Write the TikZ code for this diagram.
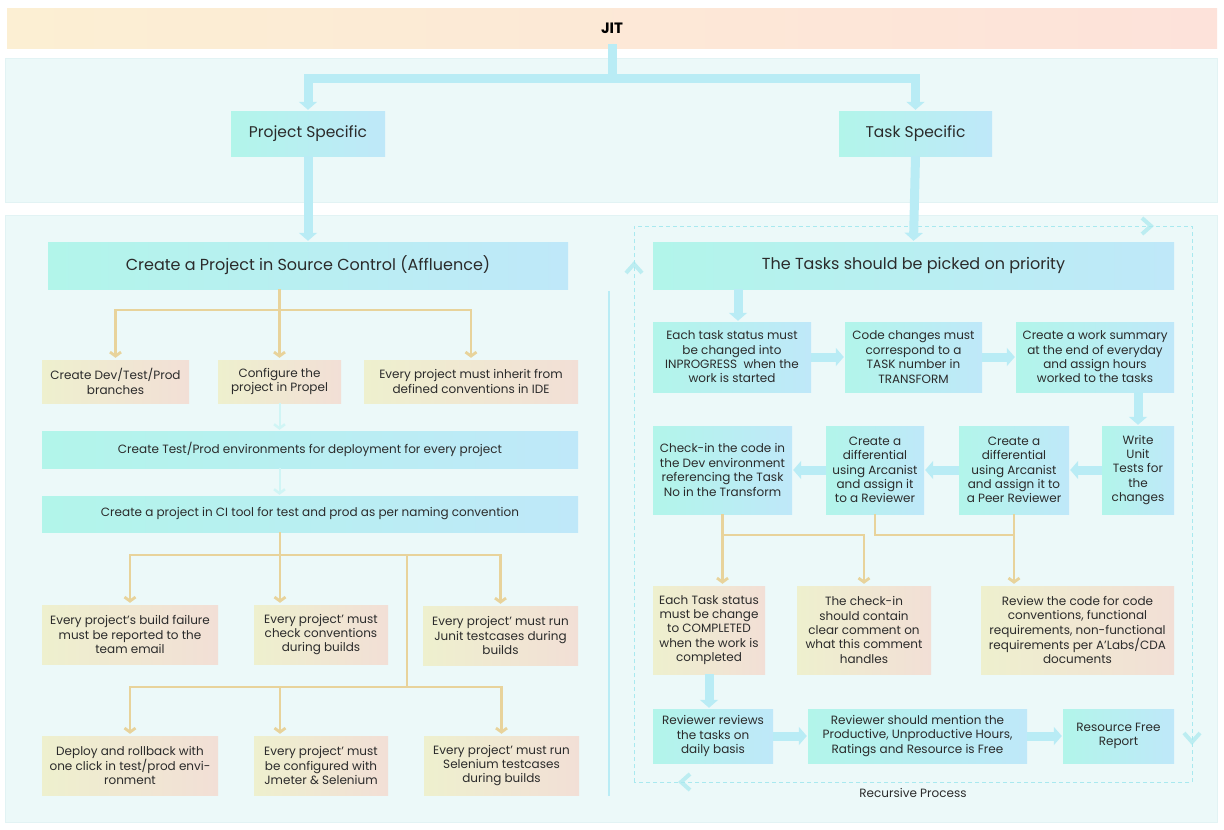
\documentclass[tikz,border=0pt]{standalone}
\usepackage{fontspec}
\setmainfont{Poppins}
\usetikzlibrary{arrows.meta}
\usetikzlibrary{decorations.markings}

\definecolor{bandL}{HTML}{FCEFD3}
\definecolor{bandR}{HTML}{FDE2DA}
\definecolor{panel}{HTML}{ECF9F9}
\definecolor{panelrim}{HTML}{E2F3F4}
\definecolor{cyanL}{HTML}{B2F5EA}
\definecolor{cyanR}{HTML}{BFE8F9}
\definecolor{sandL}{HTML}{EEF0CE}
\definecolor{sandR}{HTML}{F2DFD6}
\definecolor{ochre}{HTML}{E8D39B}
\definecolor{pipecol}{HTML}{B9ECF5}
\definecolor{faintcol}{HTML}{D0F5F5}
\definecolor{loopcol}{HTML}{A9E9EF}
\definecolor{ink}{HTML}{2B2B2B}

\tikzset{
  box/.style={inner sep=0pt, align=center, text=ink, font=\fontsize{12}{14.4}\selectfont},
  cyanbox/.style={box, left color=cyanL, right color=cyanR},
  sandbox/.style={box, left color=sandL, right color=sandR},
  bigbox/.style={cyanbox, font=\fontsize{16}{19}\selectfont},
  pipe/.style={draw=pipecol, line width=9pt},
  flow/.style={pipe, -{Triangle[length=8pt,width=18pt]}, shorten >=1pt},
  branch/.style={draw=ochre, line width=2.2pt, -{Straight Barb[length=4pt,width=11pt,line width=2.8pt]}, shorten >=2pt},
  ochreline/.style={draw=ochre, line width=2.2pt},
  faintflow/.style={draw=faintcol, line width=2pt, -{Straight Barb[length=4pt,width=11pt,line width=2.5pt]}, shorten >=1pt},
  chevron/.style={draw=loopcol, line width=4pt, opacity=0.7}
}

\begin{document}
\begin{tikzpicture}[x=1pt,y=-1pt]
  \useasboundingbox (0,0) rectangle (1224,830);
  \fill[white] (0,0) rectangle (1224,830);

  % bands
  \node[box, minimum width=1210, minimum height=40, left color=bandL, right color=bandR,
        font=\fontsize{15}{18}\selectfont\bfseries, text=black] (jit) at (612,28) {JIT};
  \filldraw[fill=panel, draw=panelrim] (5,58) rectangle (1217,202);
  \filldraw[fill=panel, draw=panelrim] (5,215) rectangle (1217,822);

  % top level
  \node[cyanbox, font=\fontsize{15.5}{18}\selectfont, minimum width=154, minimum height=45] (proj) at (308,133.5) {Project Specific};
  \node[cyanbox, font=\fontsize{15.5}{18}\selectfont, minimum width=153, minimum height=45] (task) at (915.5,133.5) {Task Specific};
  \draw[pipe, line cap=rect] (jit.south) -- ++(0,30) coordinate (split);
  \draw[flow] (split) -| (proj.north);
  \draw[flow] (split) -| (task.north);

  % project side
  \node[bigbox, minimum width=520, minimum height=47] (srcctl) at (308,265.5) {Create a Project in Source Control (Affluence)};
  \draw[flow] (proj.south) -- (srcctl.north);

  \node[sandbox, minimum width=147, minimum height=43] (devb) at (115.5,381.5) {Create Dev/Test/Prod\\branches};
  \node[sandbox, minimum width=123, minimum height=43] (propel) at (279.5,381.5) {Configure the\\project in Propel};
  \node[sandbox, minimum width=214, minimum height=43] (ide) at (471,381.5) {Every project must inherit from\\defined conventions in IDE};
  \coordinate (j1) at (279.5,310);
  \draw[branch] (srcctl.south -| propel.north) -- (propel.north);
  \draw[branch] (j1) -| (devb.north);
  \draw[branch] (j1) -| (ide.north);

  \node[cyanbox, minimum width=536, minimum height=37] (testenv) at (310,449.5) {Create Test/Prod environments for deployment for every project};
  \node[cyanbox, minimum width=536, minimum height=36] (ci) at (310,514) {Create a project in CI tool for test and prod as per naming convention};
  \draw[faintflow] (propel.south) -- (propel.south |- testenv.north);
  \draw[faintflow] (testenv.south -| propel.south) -- (propel.south |- ci.north);

  \node[sandbox, minimum width=176, minimum height=59] (fail) at (130,634.5) {Every project’s build failure\\must be reported to the\\team email};
  \node[sandbox, minimum width=134, minimum height=59] (chk) at (321,634.5) {Every project’ must\\check conventions\\during builds};
  \node[sandbox, minimum width=155, minimum height=59] (junit) at (500.5,635.5) {Every project’ must run\\Junit testcases during\\builds};
  \node[sandbox, minimum width=176, minimum height=59] (deploy) at (130,765.5) {Deploy and rollback with\\one click in test/prod envi-\\ronment};
  \node[sandbox, minimum width=134, minimum height=59] (jmeter) at (321,765.5) {Every project’ must\\be configured with\\Jmeter \& Selenium};
  \node[sandbox, minimum width=155, minimum height=59] (selen) at (501.5,765.5) {Every project’ must run\\Selenium testcases\\during builds};
  \coordinate (j2) at (280,555);
  \coordinate (j3) at (407,555);
  \coordinate (j4) at (407,687);
  \draw[branch] (ci.south -| j2) -- (j2 |- chk.north);
  \draw[branch] (j2) -| (fail.north);
  \draw[branch] (j2) -| (junit.north);
  \draw[ochreline] (j3) -- (j4);
  \draw[branch] (j4) -| (deploy.north);
  \draw[branch] (j4) -| (selen.north);
  \draw[branch] (j4 -| j2) -- (j2 |- jmeter.north);

  % divider
  \draw[draw=pipecol, line width=2pt] (609,291) -- (609,796);

  % task side
  \draw[draw=loopcol, line width=1pt, dash pattern=on 4pt off 3pt,
        postaction={decorate}, decoration={markings,
          mark=at position 518pt with {\draw[chevron, solid] (-9,8) -- (0,0) -- (-9,-8);},
          mark=at position 1073pt with {\draw[chevron, solid] (-9,8) -- (0,0) -- (-9,-8);},
          mark=at position 1630pt with {\draw[chevron, solid] (-9,8) -- (0,0) -- (-9,-8);},
          mark=at position 2181pt with {\draw[chevron, solid] (-9,8) -- (0,0) -- (-9,-8);}}]
    (634,782) |- (1192,226) |- (634,782);
  \node[font=\fontsize{12}{14}\selectfont, text=ink] (recur) at (913,793) {Recursive Process};

  \node[bigbox, minimum width=521, minimum height=47] (tasks) at (913.5,265.5) {The Tasks should be picked on priority};
  \draw[flow] (task.south) -- (tasks.north);

  \node[cyanbox, minimum width=158, minimum height=70] (inprog) at (732,357) {Each task status must\\be changed into\\INPROGRESS\ \ when the\\work is started};
  \node[cyanbox, minimum width=137, minimum height=70] (code) at (913.5,357) {Code changes must\\correspond to a\\TASK number in\\TRANSFORM};
  \node[cyanbox, minimum width=158, minimum height=70] (summary) at (1095,357) {Create a work summary\\at the end of everyday\\and assign hours\\worked to the tasks};
  \draw[flow] ([xshift=6pt]tasks.south -| inprog.north) -- ([xshift=6pt]inprog.north);
  \draw[flow] (inprog.east) -- (code.west);
  \draw[flow] (code.east) -- (summary.west);

  \node[cyanbox, minimum width=72, minimum height=88] (unit) at (1138,470) {Write\\Unit\\Tests for\\the\\changes};
  \node[cyanbox, minimum width=110, minimum height=88] (peer) at (1014,470) {Create a\\differential\\using Arcanist\\and assign it to\\a Peer Reviewer};
  \node[cyanbox, minimum width=98, minimum height=88] (reviewer) at (875,470) {Create a\\differential\\using Arcanist\\and assign it\\to a Reviewer};
  \node[cyanbox, minimum width=139, minimum height=88] (checkin) at (722.5,470) {Check-in the code in\\the Dev environment\\referencing the Task\\No in the Transform};
  \draw[flow] (summary.south -| unit.north) -- (unit.north);
  \draw[flow] (unit.west) -- (peer.east);
  \draw[flow] (peer.west) -- (reviewer.east);
  \draw[flow] (reviewer.west) -- (checkin.east);

  \node[sandbox, minimum width=112, minimum height=88] (done) at (709,630) {Each Task status\\must be change\\to COMPLETED\\when the work is\\completed};
  \node[sandbox, minimum width=134, minimum height=88] (comment) at (864,630) {The check-in\\should contain\\clear comment on\\what this comment\\handles};
  \node[sandbox, minimum width=193, minimum height=88] (review) at (1077.5,630) {Review the code for code\\conventions, functional\\requirements, non-functional\\requirements per A’Labs/CDA\\documents};
  \path (checkin.south) ++(0,21) coordinate (k1);
  \path (reviewer.south) ++(0,21) coordinate (k2);
  \draw[branch] (checkin.south) -- (checkin.south |- done.north);
  \draw[branch] (k1) -| (comment.north);
  \draw[ochreline] (reviewer.south) |- (k2 -| peer.south);
  \draw[branch] (peer.south) -- (peer.south |- review.north);

  \node[cyanbox, minimum width=120, minimum height=54] (revdaily) at (713,736) {Reviewer reviews\\the tasks on\\daily basis};
  \node[cyanbox, minimum width=219, minimum height=54] (mention) at (917.5,736) {Reviewer should mention the\\Productive, Unproductive Hours,\\Ratings and Resource is Free};
  \node[cyanbox, minimum width=111, minimum height=54] (free) at (1118.5,736) {Resource Free\\Report};
  \draw[flow] (done.south) -- (done.south |- revdaily.north);
  \draw[flow] (revdaily.east) -- (mention.west);
  \draw[flow] (mention.east) -- (free.west);
\end{tikzpicture}
\end{document}
